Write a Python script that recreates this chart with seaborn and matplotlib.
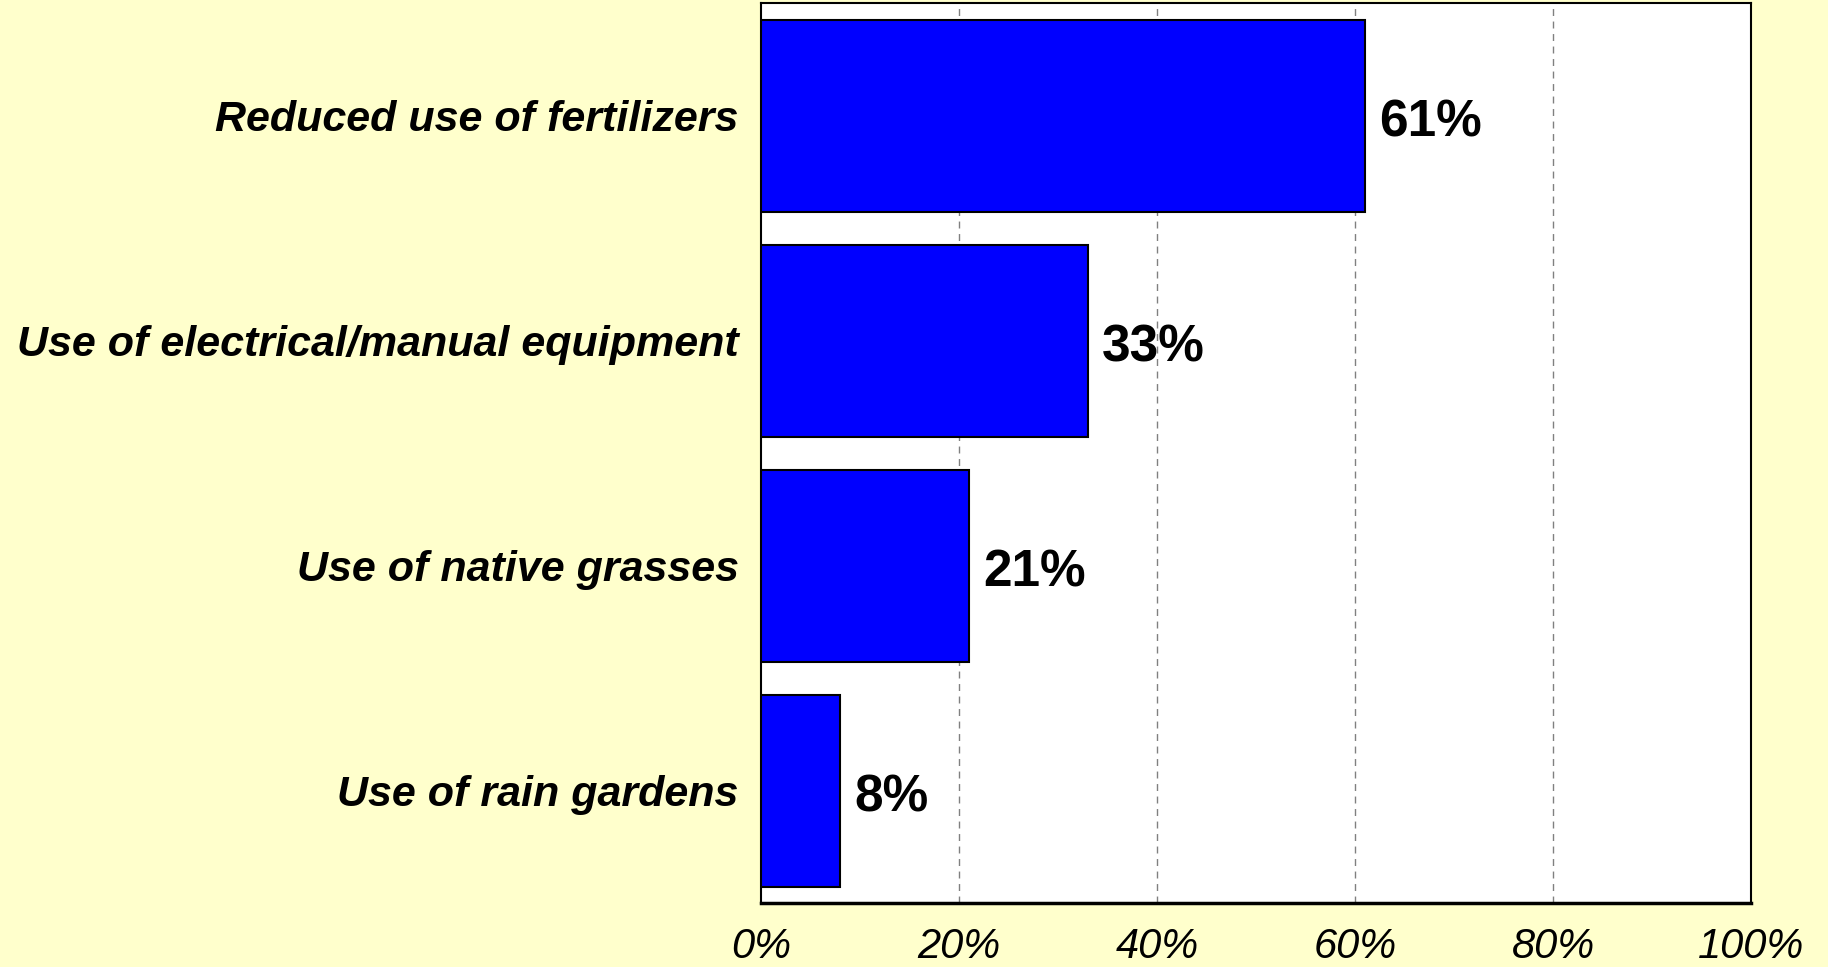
import pandas as pd
import matplotlib.pyplot as plt
import seaborn as sns

# Chart data
practices = ['Reduced use of fertilizers', 'Use of electrical/manual equipment',
             'Use of native grasses', 'Use of rain gardens']
shares = [61, 33, 21, 8]
x_ticks = [0, 20, 40, 60, 80, 100]
x_tick_labels = ['0%', '20%', '40%', '60%', '80%', '100%']

df = pd.DataFrame({'Practice': practices, 'Share': shares})

sns.set_style('white')
plt.rcParams['font.family'] = ['Liberation Sans', 'DejaVu Sans']
plt.rcParams['text.color'] = 'black'
plt.rcParams['xtick.color'] = 'black'
plt.rcParams['ytick.color'] = 'black'

bg = '#FFFFCC'
fig = plt.figure(figsize=(18.28, 9.67), dpi=100, facecolor=bg)
ax = fig.add_axes([0.4163, 0.0657, 0.5416, 0.9307])
ax.set_facecolor('white')

sns.barplot(data=df, x='Share', y='Practice', orient='h', color='#0000FF',
            saturation=1, edgecolor='black', linewidth=1.5, width=0.855, ax=ax, zorder=3)

# Dashed vertical grid
for v in x_ticks[1:-1]:
    ax.axvline(v, color='#808080', linestyle=(0, (5, 4)), linewidth=1, zorder=1)

ax.set_xlim(0, 100)
ax.set_ylim(3.5, -0.5)
ax.set_xticks(x_ticks)
ax.set_xticklabels(x_tick_labels, fontstyle='italic', fontsize=30, color='black')
ax.tick_params(axis='x', length=0, pad=17)
ax.tick_params(axis='y', length=0, pad=16)
for lbl in ax.get_yticklabels():
    lbl.set_fontsize(31)
    lbl.set_fontweight('bold')
    lbl.set_fontstyle('italic')
    lbl.set_color('black')
ax.set_xlabel('')
ax.set_ylabel('')

# Value labels
for i, v in enumerate(shares):
    ax.text(v + 1.4, i + 0.03, f'{v}%', va='center', ha='left', fontsize=37,
            fontweight='bold', color='black', zorder=4)

for side in ['top', 'right', 'left']:
    ax.spines[side].set_linewidth(1.5)
    ax.spines[side].set_color('black')
ax.spines['bottom'].set_linewidth(2.5)
ax.spines['bottom'].set_color('black')

plt.savefig('out.png', dpi=100, facecolor=bg)
